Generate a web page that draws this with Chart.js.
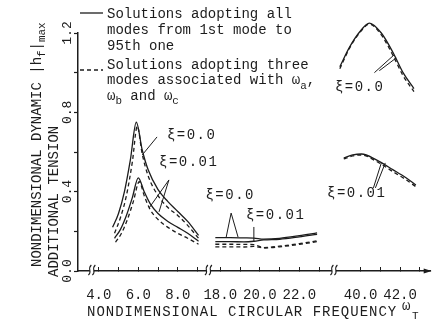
<!DOCTYPE html>
<html>
<head>
<title>Nondimensional dynamic additional tension</title>
<script src="https://cdn.jsdelivr.net/npm/chart.js"></script>
<style>
    body { margin: 0; background: #fff; }
    canvas { display: block; }
</style>
</head>
<body>
<canvas id="chart" width="440" height="325"></canvas>
<script>
// [omega_T, |h_f|max], null = jump over an axis break
const allModesXi0 = [
    [4.7, 0.22], [5.0, 0.29], [5.3, 0.40], [5.6, 0.56], [5.9, 0.75], [6.2, 0.61],
    [6.5, 0.51], [7.0, 0.41], [7.5, 0.35], [8.0, 0.30], [8.5, 0.25], [9.05, 0.18],
    null,
    [17.75, 0.168], [18.5, 0.168], [19.2, 0.167], [19.7, 0.166], [20.2, 0.161],
    [21.0, 0.165], [22.0, 0.178], [22.9, 0.192],
    null,
    [38.95, 1.03], [39.45, 1.13], [39.95, 1.205], [40.45, 1.25], [41.05, 1.20],
    [41.65, 1.10], [42.15, 1.0], [42.7, 0.92]
];
const threeModesXi0 = [
    [4.8, 0.19], [5.1, 0.27], [5.4, 0.38], [5.7, 0.55], [5.95, 0.73], [6.2, 0.59],
    [6.5, 0.48], [7.0, 0.38], [7.5, 0.32], [8.0, 0.28], [8.5, 0.23], [9.05, 0.165],
    null,
    [17.75, 0.135], [18.5, 0.135], [19.2, 0.134], [19.7, 0.133], [20.2, 0.118],
    [21.0, 0.125], [22.0, 0.138], [22.9, 0.152],
    null,
    [38.95, 1.02], [39.45, 1.125], [39.95, 1.20], [40.45, 1.245], [41.05, 1.19],
    [41.65, 1.085], [42.15, 0.985], [42.7, 0.905]
];
const allModesXi001 = [
    [4.8, 0.165], [5.1, 0.21], [5.4, 0.28], [5.7, 0.37], [6.0, 0.47], [6.3, 0.40],
    [6.6, 0.34], [7.0, 0.29], [7.5, 0.25], [8.0, 0.22], [8.5, 0.19], [9.05, 0.15],
    null,
    [17.75, 0.148], [18.5, 0.148], [19.2, 0.147], [19.7, 0.15], [20.2, 0.157],
    [21.0, 0.16], [22.0, 0.172], [22.9, 0.185],
    null,
    [39.15, 0.57], [39.6, 0.585], [40.05, 0.59], [40.8, 0.56], [41.65, 0.51],
    [42.3, 0.47], [42.8, 0.434]
];
const threeModesXi001 = [
    [4.85, 0.145], [5.15, 0.19], [5.45, 0.26], [5.75, 0.35], [6.05, 0.45], [6.3, 0.38],
    [6.6, 0.31], [7.0, 0.26], [7.5, 0.22], [8.0, 0.19], [8.5, 0.165], [9.05, 0.135],
    null,
    [17.75, 0.122], [18.5, 0.122], [19.2, 0.121], [19.7, 0.124], [20.2, 0.116],
    [21.0, 0.122], [22.0, 0.134], [22.9, 0.148],
    null,
    [39.15, 0.565], [39.6, 0.58], [40.05, 0.585], [40.8, 0.553], [41.65, 0.50],
    [42.3, 0.46], [42.8, 0.425]
];

const xTickLabels = [4, 6, 8, 18, 20, 22, 40, 42];
const xMinorTicks = [5, 7, 9, 19, 21, 23, 41, 43];
const yTickLabels = [0.0, 0.4, 0.8, 1.2];

// the omega axis is cut in pieces, each piece is shifted onto one linear scale
const axisPieces = [
    { upTo: 12, shift: 2.95 },
    { upTo: 30, shift: 10.8 },
    { upTo: Infinity, shift: 25.7 }
];
const axisCuts = [3.65, 9.55, 23.75];
const axisEnd = 17.85;

// labels with their leader lines, in [omega, value]
const notes = [
    { text: 'ξ=0.0', at: [7.45, 0.686], leaders: [[6.95, 0.676, 6.2, 0.585]] },
    { text: 'ξ=0.01', at: [7.05, 0.55], leaders: [[7.55, 0.459, 6.55, 0.318], [7.55, 0.459, 7.05, 0.298]] },
    { text: 'ξ=0.0', at: [17.25, 0.383], leaders: [[18.55, 0.292, 18.3, 0.171], [18.55, 0.292, 18.9, 0.171]] },
    { text: 'ξ=0.01', at: [19.3, 0.282], leaders: [[19.7, 0.222, 19.7, 0.146]] },
    { text: 'ξ=0.0', at: [38.7, 0.928], leaders: [[40.7, 1.0, 41.7, 1.09], [40.95, 1.01, 41.8, 1.074]] },
    { text: 'ξ=0.01', at: [38.3, 0.393], leaders: [[40.65, 0.419, 41.05, 0.545], [40.75, 0.419, 41.25, 0.545]] }
];

const legendAll = ['Solutions adopting all', 'modes from 1st mode to', '95th one'];
const legendThree = ['Solutions adopting three', 'modes associated with ω_a,', 'ω_b and ω_c'];

const ink = '#1c1c1c';
const mono = '"Liberation Mono", "DejaVu Sans Mono", monospace';

function toU(w) {
    const piece = axisPieces.find(p => w < p.upTo);
    return w - piece.shift;
}

function toPoints(list) {
    const pts = [];
    list.forEach(p => {
        if (p) pts.push({ x: toU(p[0]), y: p[1] });
        else pts.push({ x: pts[pts.length - 1].x, y: null });
    });
    return pts;
}

function series(label, list, dashed) {
    return {
        label: label,
        data: toPoints(list),
        borderColor: ink,
        borderWidth: 1.3,
        borderDash: dashed ? [4, 3] : [],
        pointRadius: 0,
        cubicInterpolationMode: 'monotone',
        spanGaps: false,
        clip: false,
        fill: false
    };
}

// text with _x or _{xyz} subscripts, drawn left to right from x
function drawRich(ctx, text, x, y, size) {
    const parts = text.split(/(_\{[^}]*\}|_.)/).filter(Boolean);
    parts.forEach(part => {
        let str = part, dy = 0, fs = size;
        if (part[0] === '_') {
            str = part[1] === '{' ? part.slice(2, -1) : part.slice(1);
            dy = size * 0.38;
            fs = size * 0.78;
        }
        ctx.font = fs + 'px ' + mono;
        ctx.fillText(str, x, y + dy);
        x += ctx.measureText(str).width;
    });
    return x;
}

const paperMarks = {
    id: 'paperMarks',
    afterDraw(chart) {
        const ctx = chart.ctx;
        const xs = chart.scales.x, ys = chart.scales.y;
        const px = w => xs.getPixelForValue(toU(w));
        const py = v => ys.getPixelForValue(v);
        const axisY = py(0);
        ctx.save();
        ctx.fillStyle = ink;
        ctx.strokeStyle = ink;
        ctx.textBaseline = 'middle';

        // y tick labels, turned like the axis title
        ctx.font = '13px ' + mono;
        ctx.textAlign = 'center';
        yTickLabels.forEach(v => {
            ctx.save();
            ctx.translate(68, py(v));
            ctx.rotate(-Math.PI / 2);
            ctx.fillText(v.toFixed(1), 0, 0);
            ctx.restore();
        });
        ctx.textAlign = 'left';

        // y title
        ctx.save();
        ctx.translate(37, 267);
        ctx.rotate(-Math.PI / 2);
        drawRich(ctx, 'NONDIMENSIONAL DYNAMIC |h_f|_{max}', 0, 0, 14);
        ctx.restore();
        ctx.save();
        ctx.translate(54, 277);
        ctx.rotate(-Math.PI / 2);
        drawRich(ctx, 'ADDITIONAL TENSION', 0, 0, 14);
        ctx.restore();

        // x title
        ctx.letterSpacing = '1px';
        ctx.font = '14px ' + mono;
        ctx.fillText('NONDIMENSIONAL CIRCULAR FREQUENCY', 87, 312);
        ctx.letterSpacing = '0px';
        ctx.fillText('ω', 402, 306);
        ctx.font = '11px ' + mono;
        ctx.fillText('T', 412, 316);

        // legend
        ctx.lineWidth = 1.3;
        ctx.beginPath();
        ctx.moveTo(80, 13); ctx.lineTo(103, 13);
        ctx.stroke();
        ctx.setLineDash([4, 3]);
        ctx.beginPath();
        ctx.moveTo(80, 70); ctx.lineTo(103, 70);
        ctx.stroke();
        ctx.setLineDash([]);
        legendAll.forEach((t, i) => drawRich(ctx, t, 107, 14 + i * 16, 14));
        legendThree.forEach((t, i) => drawRich(ctx, t, 107, 65 + i * 15.5, 14));

        // curve labels and leaders
        ctx.lineWidth = 1;
        notes.forEach(n => {
            ctx.letterSpacing = '1.5px';
            ctx.font = '14px ' + mono;
            ctx.fillText(n.text, px(n.at[0]), py(n.at[1]));
            n.leaders.forEach(l => {
                ctx.beginPath();
                ctx.moveTo(px(l[0]), py(l[1]));
                ctx.lineTo(px(l[2]), py(l[3]));
                ctx.stroke();
            });
        });
        ctx.letterSpacing = '0px';

        // axis breaks
        ctx.lineWidth = 1.1;
        axisCuts.forEach(w => {
            const bx = px(w);
            ctx.fillStyle = '#fff';
            ctx.fillRect(bx - 2, axisY - 2, 4, 4);
            ctx.fillStyle = ink;
            [-2, 2].forEach(d => {
                ctx.beginPath();
                ctx.moveTo(bx + d - 1.5, axisY + 4);
                ctx.bezierCurveTo(bx + d + 3, axisY + 1, bx + d - 3, axisY - 2, bx + d + 1.5, axisY - 6);
                ctx.stroke();
            });
        });

        // arrow at the end of the omega axis
        const ex = xs.getPixelForValue(axisEnd);
        ctx.beginPath();
        ctx.moveTo(ex + 1, axisY);
        ctx.lineTo(ex - 7, axisY - 2.5);
        ctx.lineTo(ex - 7, axisY + 2.5);
        ctx.closePath();
        ctx.fill();
        ctx.restore();
    }
};

new Chart(document.getElementById('chart'), {
    type: 'line',
    data: {
        datasets: [
            series('all modes, ξ=0.0', allModesXi0, false),
            series('three modes, ξ=0.0', threeModesXi0, true),
            series('all modes, ξ=0.01', allModesXi001, false),
            series('three modes, ξ=0.01', threeModesXi001, true)
        ]
    },
    options: {
        responsive: false,
        animation: false,
        devicePixelRatio: 1,
        layout: { padding: { top: 33, right: 5, left: 0, bottom: 0 } },
        plugins: { legend: { display: false }, tooltip: { enabled: false } },
        scales: {
            x: {
                type: 'linear',
                min: 0,
                max: axisEnd,
                afterBuildTicks: s => {
                    s.ticks = xTickLabels.concat(xMinorTicks).map(w => ({ value: toU(w) }));
                },
                afterFit: s => { s.height = 54; },
                ticks: {
                    autoSkip: false,
                    maxRotation: 0,
                    padding: 20,
                    color: ink,
                    font: { family: mono, size: 14 },
                    callback: (v, i) => i < xTickLabels.length ? xTickLabels[i].toFixed(1) : ''
                },
                grid: { drawOnChartArea: false, tickLength: -4, tickColor: ink, tickWidth: 1 },
                border: { color: ink, width: 1.5 }
            },
            y: {
                min: 0,
                max: 1.2,
                afterFit: s => { s.width = 78; },
                ticks: { stepSize: 0.2, display: false },
                grid: { drawOnChartArea: false, tickLength: 4, tickColor: ink, tickWidth: 1.2 },
                border: { color: ink, width: 1.5 }
            }
        }
    },
    plugins: [paperMarks]
});
</script>
</body>
</html>
